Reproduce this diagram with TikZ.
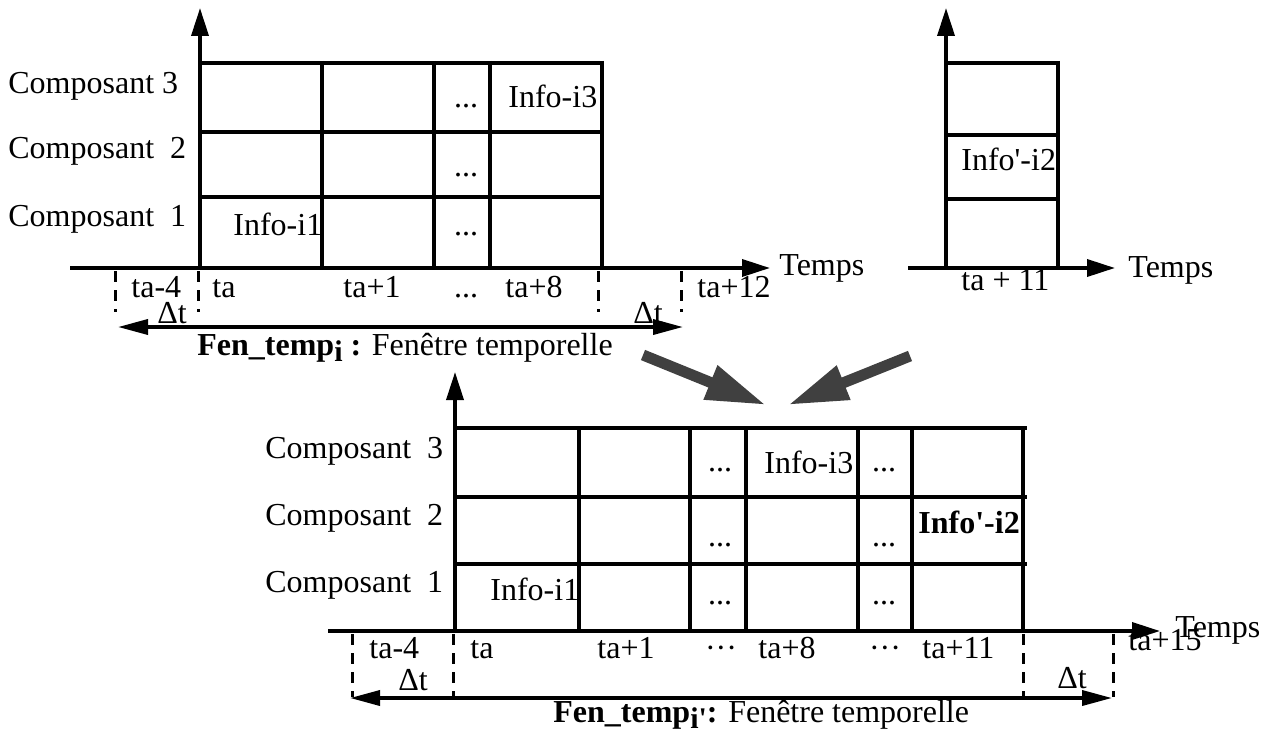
\documentclass[tikz,border=0pt]{standalone}
\usepackage{fontspec}
\setmainfont{Liberation Serif}
\usetikzlibrary{arrows.meta}

\begin{document}
\begin{tikzpicture}[
    x=0.5pt,
    y=-0.5pt,
    font=\fontsize{16}{19}\selectfont,
    axis/.style={
        line width=1.8pt,
        -{Triangle[length=14pt,width=8.5pt]}
    },
    grid/.style={
        line width=1.8pt
    },
    tick/.style={
        line width=1.5pt,
        dash pattern=on 5.5pt off 4pt
    },
    window/.style={
        line width=1.8pt,
        {Triangle[length=15pt,width=7.5pt]}-{Triangle[length=15pt,width=7.5pt]}
    },
    merge/.style={
        line width=5.5pt,
        draw=black!75,
        -{Triangle[length=30pt,width=17pt]}
    },
    lbl/.style={
        anchor=base west,
        inner sep=0pt
    },
    dots/.style={
        anchor=base,
        inner sep=0pt
    }
]

\useasboundingbox (0,0) rectangle (1277,738);

%%%%%%%%%%%%%%%%%%%%%%%%%%%%%%%%%%%%%%%%%%%%%%%%%%%%
%% Fenetre i (top left)
%%%%%%%%%%%%%%%%%%%%%%%%%%%%%%%%%%%%%%%%%%%%%%%%%%%%

\coordinate (oa) at (200,268);
\coordinate (ya) at (200,8);
\coordinate (xa0) at (70,268);
\coordinate (xa) at (770,268);

\draw[axis] (xa0) -- (xa);
\draw[axis] (oa) -- (ya);

\draw[grid] (200,63) -- (602,63) (200,132) -- (602,132) (200,197) -- (602,197);
\draw[grid] (322,61) -- (322,268) (434,61) -- (434,268)
    (490,61) -- (490,268) (602,61) -- (602,268);

\node[lbl] (compa3) at (8,93) {Composant 3};
\node[lbl] (compa2) at (8,158) {Composant~ 2};
\node[lbl] (compa1) at (8,226) {Composant~ 1};

\node[lbl] (infoa1) at (233,235) {Info-i1};
\node[lbl] (infoa3) at (508,107) {Info-i3};
\node[dots] (dotsa3) at (466,107) {...};
\node[dots] (dotsa2) at (466,176) {...};
\node[dots] (dotsa1) at (466,235) {...};

\node[lbl] (tam4) at (131,297) {ta-4};
\node[lbl] (ta) at (212,297) {ta};
\node[lbl] (tap1) at (343,297) {ta+1};
\node[dots] (dotsa) at (466,297) {...};
\node[lbl] (tap8) at (505,297) {ta+8};
\node[lbl] (tap12) at (697,297) {ta+12};
\node[lbl] (tempsa) at (779,275) {Temps};

\draw[tick] (115,271) -- (115,312);
\draw[tick] (198,271) -- (198,312);
\draw[tick] (598,271) -- (598,312);
\draw[tick] (681,271) -- (681,312);

\node[lbl] (dta1) at (157,323) {Δt};
\node[lbl] (dta2) at (633,323) {Δt};

\coordinate (wa0) at (118,327);
\coordinate (wa1) at (683,327);
\draw[window] (wa0) -- (wa1);

\node[lbl] (fena) at (197,355)
{\textbf{Fen\_temp}\raisebox{-0.45ex}{\fontsize{15}{15}\selectfont\bfseries i} \textbf{:} Fenêtre temporelle};

%%%%%%%%%%%%%%%%%%%%%%%%%%%%%%%%%%%%%%%%%%%%%%%%%%%%
%% Info' (top right)
%%%%%%%%%%%%%%%%%%%%%%%%%%%%%%%%%%%%%%%%%%%%%%%%%%%%

\coordinate (ob) at (946,268);
\coordinate (yb) at (946,8);
\coordinate (xb0) at (908,268);
\coordinate (xb) at (1115,268);

\draw[axis] (xb0) -- (xb);
\draw[axis] (ob) -- (yb);

\draw[grid] (946,63) -- (1058,63) (946,135) -- (1058,135) (946,199) -- (1058,199);
\draw[grid] (1058,61) -- (1058,268);

\node[lbl] (infob2) at (961,170) {Info\textquotesingle-i2};
\node[lbl] (tap11) at (961,290) {ta + 11};
\node[lbl] (tempsb) at (1128,277) {Temps};

%%%%%%%%%%%%%%%%%%%%%%%%%%%%%%%%%%%%%%%%%%%%%%%%%%%%
%% Fusion arrows
%%%%%%%%%%%%%%%%%%%%%%%%%%%%%%%%%%%%%%%%%%%%%%%%%%%%

\coordinate (froma) at (643,355);
\coordinate (intoa) at (766,405);
\coordinate (fromb) at (910,356);
\coordinate (intob) at (788,405);

\draw[merge] (froma) -- (intoa);
\draw[merge] (fromb) -- (intob);

%%%%%%%%%%%%%%%%%%%%%%%%%%%%%%%%%%%%%%%%%%%%%%%%%%%%
%% Fenetre i' (bottom)
%%%%%%%%%%%%%%%%%%%%%%%%%%%%%%%%%%%%%%%%%%%%%%%%%%%%

\coordinate (oc) at (455,631);
\coordinate (yc) at (455,372);
\coordinate (xc0) at (328,631);
\coordinate (xc) at (1160,631);

\draw[axis] (xc0) -- (xc);
\draw[axis] (oc) -- (yc);

\draw[grid] (455,428) -- (1027,428) (455,497) -- (1027,497) (455,564) -- (1027,564);
\draw[grid] (579,428) -- (579,631) (690,428) -- (690,631) (746,428) -- (746,631)
    (858,428) -- (858,631) (912,428) -- (912,631) (1023,428) -- (1023,631);

\node[lbl] (compc3) at (265,458) {Composant~ 3};
\node[lbl] (compc2) at (265,525) {Composant~ 2};
\node[lbl] (compc1) at (265,592) {Composant~ 1};

\node[lbl] (infoc1) at (490,600) {Info-i1};
\node[lbl] (infoc3) at (764,473) {Info-i3};
\node[lbl] (infoc2) at (918,533) {\textbf{Info\textquotesingle-i2}};

\node[dots] (dotsc3) at (720,471) {...};
\node[dots] (dotsc2) at (720,546) {...};
\node[dots] (dotsc1) at (720,604) {...};
\node[dots] (dotsd3) at (884,471) {...};
\node[dots] (dotsd2) at (884,546) {...};
\node[dots] (dotsd1) at (884,604) {...};

\node[lbl] (tcm4) at (369,658) {ta-4};
\node[lbl] (tc) at (470,658) {ta};
\node[lbl] (tcp1) at (597,658) {ta+1};
\node[dots] (dotsc) at (721,658) {···};
\node[lbl] (tcp8) at (758,658) {ta+8};
\node[dots] (dotsd) at (885,658) {···};
\node[lbl] (tcp11) at (922,658) {ta+11};
\node[lbl] (tcp15) at (1128,650) {ta+15};
\node[lbl] (tempsc) at (1175,637) {Temps};

\draw[tick] (352,634) -- (352,697);
\draw[tick] (453,634) -- (453,697);
\draw[tick] (1023,634) -- (1023,697);
\draw[tick] (1113,634) -- (1113,697);

\node[lbl] (dtc1) at (398,690) {Δt};
\node[lbl] (dtc2) at (1057,688) {Δt};

\coordinate (wc0) at (350,698);
\coordinate (wc1) at (1112,698);
\draw[window] (wc0) -- (wc1);

\node[lbl] (fenc) at (553,722)
{\textbf{Fen\_temp}\raisebox{-0.45ex}{\fontsize{15}{15}\selectfont\bfseries i\textquotesingle}\textbf{:} Fenêtre temporelle};

\end{tikzpicture}
\end{document}
